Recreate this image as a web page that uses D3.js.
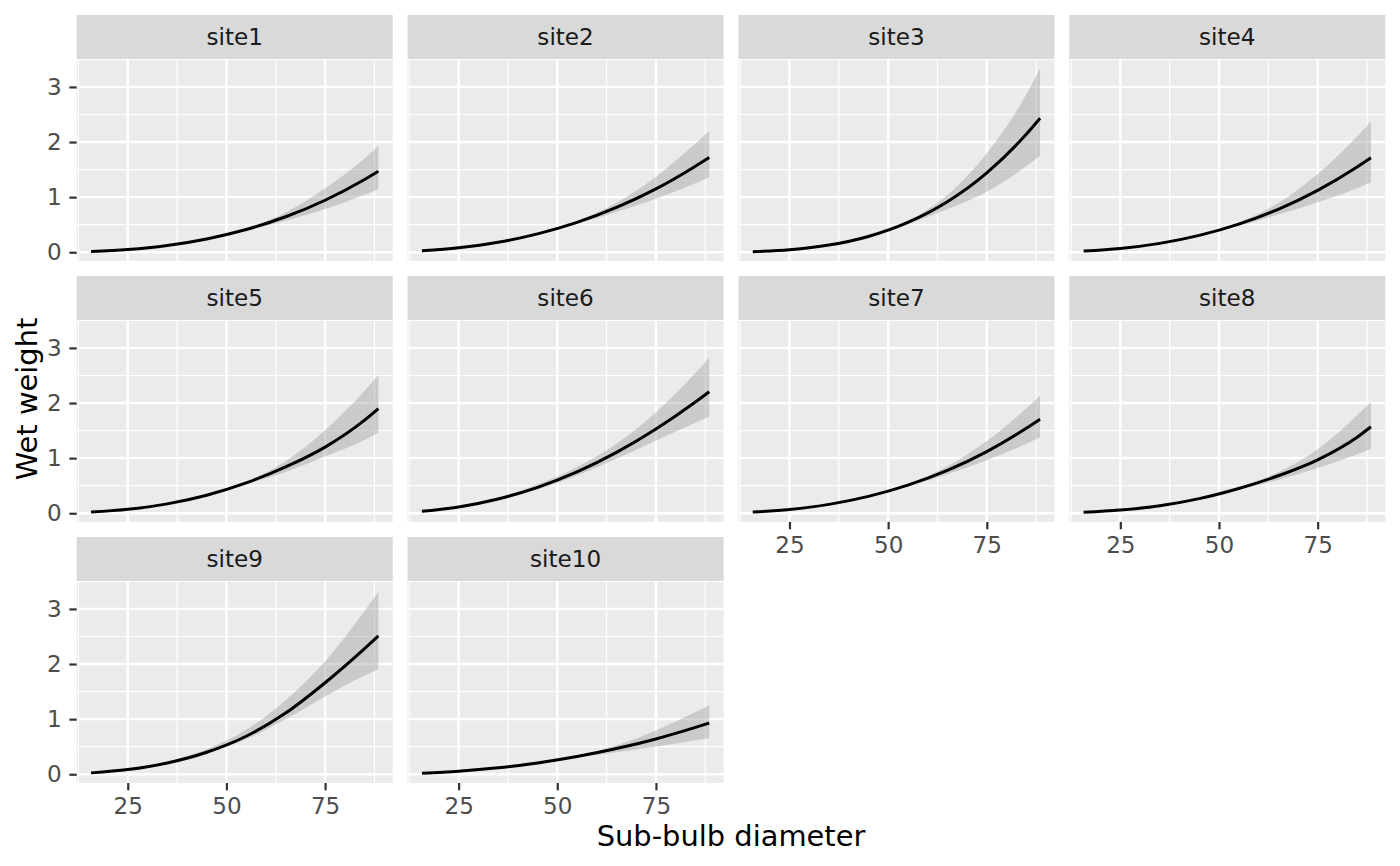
<!DOCTYPE html>
<html>
<head>
<meta charset="utf-8">
<script src="https://cdn.jsdelivr.net/npm/d3@7"></script>
<style>
  body { margin: 0; background: #fff; }
  text { font-family: "DejaVu Sans", sans-serif; }
</style>
</head>
<body>
<script>
// fitted wet weight vs sub-bulb diameter, one row per site
var sites = ["site1", "site2", "site3", "site4", "site5", "site6", "site7", "site8", "site9", "site10"];
var diameter = [15.7, 25, 35, 45, 55, 65, 75, 85, 88.5];

var fitMean = [
  [0.015, 0.050, 0.123, 0.242, 0.413, 0.644, 0.944, 1.320, 1.470],
  [0.026, 0.080, 0.180, 0.333, 0.542, 0.813, 1.150, 1.562, 1.720],
  [0.010, 0.045, 0.130, 0.287, 0.541, 0.916, 1.440, 2.140, 2.430],
  [0.021, 0.068, 0.161, 0.306, 0.510, 0.780, 1.124, 1.549, 1.716],
  [0.021, 0.071, 0.170, 0.327, 0.551, 0.840, 1.200, 1.690, 1.900],
  [0.035, 0.114, 0.259, 0.469, 0.749, 1.104, 1.529, 2.019, 2.205],
  [0.021, 0.069, 0.161, 0.306, 0.510, 0.778, 1.119, 1.541, 1.705],
  [0.017, 0.057, 0.137, 0.266, 0.450, 0.680, 0.970, 1.380, 1.570],
  [0.025, 0.085, 0.205, 0.400, 0.690, 1.110, 1.660, 2.280, 2.510],
  [0.020, 0.055, 0.117, 0.206, 0.322, 0.466, 0.641, 0.850, 0.929]
];
var fitLower = [
  [0.013, 0.045, 0.116, 0.235, 0.392, 0.573, 0.784, 1.043, 1.147],
  [0.022, 0.072, 0.170, 0.324, 0.518, 0.732, 0.972, 1.250, 1.359],
  [0.008, 0.039, 0.121, 0.276, 0.508, 0.780, 1.100, 1.560, 1.750],
  [0.017, 0.060, 0.150, 0.296, 0.481, 0.683, 0.908, 1.163, 1.270],
  [0.017, 0.063, 0.160, 0.317, 0.523, 0.750, 1.030, 1.330, 1.460],
  [0.030, 0.101, 0.236, 0.431, 0.685, 0.990, 1.320, 1.640, 1.750],
  [0.018, 0.063, 0.153, 0.298, 0.489, 0.707, 0.961, 1.259, 1.379],
  [0.014, 0.050, 0.128, 0.257, 0.425, 0.605, 0.820, 1.070, 1.171],
  [0.022, 0.077, 0.189, 0.372, 0.635, 0.999, 1.411, 1.790, 1.900],
  [0.016, 0.047, 0.108, 0.198, 0.302, 0.401, 0.504, 0.615, 0.660]
];
var fitUpper = [
  [0.018, 0.056, 0.130, 0.249, 0.434, 0.721, 1.160, 1.703, 1.926],
  [0.031, 0.088, 0.190, 0.342, 0.566, 0.898, 1.372, 1.973, 2.200],
  [0.012, 0.051, 0.139, 0.297, 0.571, 1.040, 1.797, 2.863, 3.340],
  [0.026, 0.078, 0.172, 0.317, 0.541, 0.892, 1.418, 2.102, 2.368],
  [0.025, 0.080, 0.180, 0.337, 0.579, 0.945, 1.505, 2.224, 2.508],
  [0.040, 0.128, 0.287, 0.521, 0.839, 1.259, 1.835, 2.544, 2.822],
  [0.024, 0.075, 0.169, 0.313, 0.530, 0.851, 1.311, 1.902, 2.131],
  [0.020, 0.063, 0.144, 0.273, 0.470, 0.745, 1.160, 1.780, 2.020],
  [0.029, 0.096, 0.232, 0.456, 0.807, 1.343, 2.050, 2.964, 3.313],
  [0.024, 0.062, 0.125, 0.213, 0.340, 0.527, 0.795, 1.128, 1.254]
];

var xTicks = [25, 50, 75];
var xMinor = [12.5, 37.5, 62.5, 87.5];
var yTicks = [0, 1, 2, 3];
var yMinor = [0.5, 1.5, 2.5, 3.5];

var width = 1400, height = 866;
var margin = { left: 76.7, right: 14.7, top: 15, bottom: 83 };
var nCol = 4, nRow = 3, gapX = 14.8, gapY = 15, stripH = 44;
var panelW = (width - margin.left - margin.right - gapX * (nCol - 1)) / nCol;
var panelH = (height - margin.top - margin.bottom - gapY * (nRow - 1)) / nRow - stripH;
var smallFont = 23.1, titleFont = 28.9;

function expand(ext) {
  var d = (ext[1] - ext[0]) * 0.05;
  return [ext[0] - d, ext[1] + d];
}

var x = d3.scaleLinear()
  .domain(expand(d3.extent(diameter)))
  .range([0, panelW]);

var y = d3.scaleLinear()
  .domain(expand([d3.min(fitLower, function(r) { return d3.min(r); }),
                  d3.max(fitUpper, function(r) { return d3.max(r); })]))
  .range([panelH, 0]);

var svg = d3.select('body').append('svg')
  .attr('width', width)
  .attr('height', height);

svg.append('defs').append('clipPath')
  .attr('id', 'panel-clip')
  .append('rect')
  .attr('width', panelW)
  .attr('height', panelH);

var line = d3.line()
  .x(function(d) { return x(d.x); })
  .y(function(d) { return y(d.m); })
  .curve(d3.curveMonotoneX);

var ribbon = d3.area()
  .x(function(d) { return x(d.x); })
  .y0(function(d) { return y(d.lo); })
  .y1(function(d) { return y(d.hi); })
  .curve(d3.curveMonotoneX);

function styleAxis(g) {
  g.attr('font-size', smallFont).attr('font-family', '"DejaVu Sans", sans-serif');
  g.select('.domain').remove();
  g.selectAll('.tick line').attr('stroke', '#333333').attr('stroke-width', 2.2);
  g.selectAll('.tick text').attr('fill', '#4D4D4D');
}

sites.forEach(function(name, i) {
  var col = i % nCol, row = Math.floor(i / nCol);
  var g = svg.append('g')
    .attr('transform', 'translate(' + (margin.left + col * (panelW + gapX)) + ',' +
      (margin.top + row * (stripH + panelH + gapY)) + ')');

  // strip
  g.append('rect')
    .attr('width', panelW)
    .attr('height', stripH)
    .attr('fill', '#D9D9D9');
  g.append('text')
    .attr('x', panelW / 2)
    .attr('y', stripH / 2)
    .attr('dy', '0.36em')
    .attr('text-anchor', 'middle')
    .attr('font-size', smallFont)
    .attr('fill', '#1A1A1A')
    .text(name);

  var p = g.append('g').attr('transform', 'translate(0,' + stripH + ')');
  p.append('rect')
    .attr('width', panelW)
    .attr('height', panelH)
    .attr('fill', '#EBEBEB');

  var grid = p.append('g').attr('clip-path', 'url(#panel-clip)');
  grid.selectAll('.xminor').data(xMinor).enter().append('line')
    .attr('x1', function(d) { return x(d); }).attr('x2', function(d) { return x(d); })
    .attr('y1', 0).attr('y2', panelH)
    .attr('stroke', '#fff').attr('stroke-width', 1.2);
  grid.selectAll('.yminor').data(yMinor).enter().append('line')
    .attr('y1', function(d) { return y(d); }).attr('y2', function(d) { return y(d); })
    .attr('x1', 0).attr('x2', panelW)
    .attr('stroke', '#fff').attr('stroke-width', 1.2);
  grid.selectAll('.xmajor').data(xTicks).enter().append('line')
    .attr('x1', function(d) { return x(d); }).attr('x2', function(d) { return x(d); })
    .attr('y1', 0).attr('y2', panelH)
    .attr('stroke', '#fff').attr('stroke-width', 2.4);
  grid.selectAll('.ymajor').data(yTicks).enter().append('line')
    .attr('y1', function(d) { return y(d); }).attr('y2', function(d) { return y(d); })
    .attr('x1', 0).attr('x2', panelW)
    .attr('stroke', '#fff').attr('stroke-width', 2.4);

  var pts = diameter.map(function(d, j) {
    return { x: d, m: fitMean[i][j], lo: fitLower[i][j], hi: fitUpper[i][j] };
  });

  grid.append('path')
    .datum(pts)
    .attr('d', ribbon)
    .attr('fill', '#999999')
    .attr('fill-opacity', 0.4);

  grid.append('path')
    .datum(pts)
    .attr('d', line)
    .attr('fill', 'none')
    .attr('stroke', '#000')
    .attr('stroke-width', 3);

  if (i + nCol >= sites.length) {
    p.append('g')
      .attr('transform', 'translate(0,' + panelH + ')')
      .call(d3.axisBottom(x).tickValues(xTicks).tickFormat(d3.format('d'))
        .tickSize(7.3).tickPadding(7.7))
      .call(styleAxis);
  }
  if (col === 0) {
    p.append('g')
      .call(d3.axisLeft(y).tickValues(yTicks).tickFormat(d3.format('d'))
        .tickSize(7.3).tickPadding(7.7))
      .call(styleAxis);
  }
});

var plotLeft = margin.left, plotRight = width - margin.right;
svg.append('text')
  .attr('x', (plotLeft + plotRight) / 2)
  .attr('y', 846)
  .attr('text-anchor', 'middle')
  .attr('font-size', titleFont)
  .attr('fill', '#000')
  .text('Sub-bulb diameter');

svg.append('text')
  .attr('transform', 'translate(36.5,' + ((margin.top + height - margin.bottom) / 2) + ') rotate(-90)')
  .attr('text-anchor', 'middle')
  .attr('font-size', titleFont)
  .attr('fill', '#000')
  .text('Wet weight');
</script>
</body>
</html>
